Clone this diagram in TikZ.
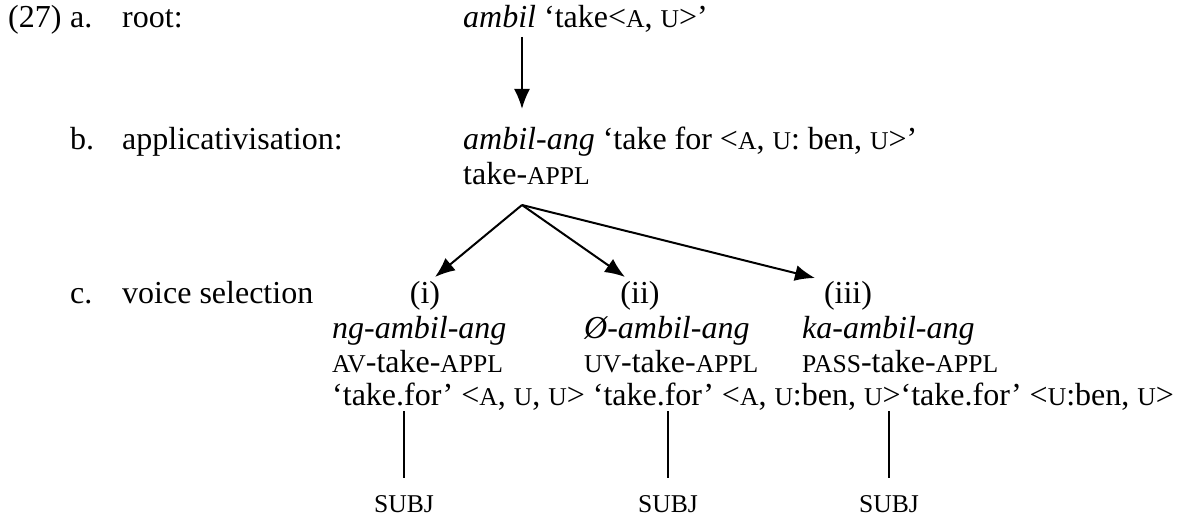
\documentclass[tikz,border=0pt]{standalone}
\usepackage{fontspec}
\setmainfont{Liberation Serif}
\usetikzlibrary{arrows.meta}
\newcommand{\smcap}[1]{{\fontsize{25.6}{30}\selectfont #1}}
\begin{document}
\begin{tikzpicture}[x=1pt,y=-1pt,
  txt/.style={anchor=base west, inner sep=0pt, font=\fontsize{32}{36.8}\selectfont},
  ctr/.style={anchor=base, inner sep=0pt, font=\fontsize{32}{36.8}\selectfont},
  subj/.style={anchor=base, inner sep=0pt, outer ysep=17pt, font=\fontsize{25.6}{30}\selectfont},
  conn/.style={line width=2pt},
  arr/.style={line width=2pt, -{Latex[length=20pt,width=16pt]}}]
\useasboundingbox (0,0) rectangle (1184,524);
% row a
\node[txt] (n27) at (8,28) {(27)};
\node[txt] (la) at (70,28) {a.};
\node[txt] (lroot) at (122,28) {root:};
\node[txt] (ra) at (463,28) {\textit{ambil} ‘take<\smcap{A}, \smcap{U}>’};
% row b
\node[txt] (lb) at (70,150) {b.};
\node[txt] (lapp) at (122,150) {applicativisation:};
\node[txt] (rb) at (463,150) {\textit{ambil-ang} ‘take for <\smcap{A}, \smcap{U}: ben, \smcap{U}>’};
\node[txt] (gb) at (463,185) {take-\smcap{APPL}};
% row c
\node[txt] (lc) at (70,303) {c.};
\node[txt] (lvoice) at (122,303) {voice selection};
\node[ctr] (i1) at (425,303) {(i)};
\node[ctr] (i2) at (640,303) {(ii)};
\node[ctr] (i3) at (848,303) {(iii)};
\node[txt] (f1) at (332,338) {\textit{ng-ambil-ang}};
\node[txt] (f2) at (584,338) {\textit{Ø-ambil-ang}};
\node[txt] (f3) at (802,338) {\textit{ka-ambil-ang}};
\node[txt] (g1) at (332,372) {\smcap{AV}-take-\smcap{APPL}};
\node[txt] (g2) at (584,372) {\smcap{UV}-take-\smcap{APPL}};
\node[txt] (g3) at (802,372) {\smcap{PASS}-take-\smcap{APPL}};
\node[txt] (tf) at (332,405) {‘take.for’ <\smcap{A}, \smcap{U}, \smcap{U}> ‘take.for’ <\smcap{A}, \smcap{U}:ben, \smcap{U}>‘take.for’ <\smcap{U}:ben, \smcap{U}>};
\node[subj] (s1) at (404,512) {SUBJ};
\node[subj] (s2) at (668,512) {SUBJ};
\node[subj] (s3) at (889,512) {SUBJ};
% connectors
\coordinate (a0) at (522,37);
\coordinate (b0) at (522,109);
\coordinate (br) at (522,205);
\coordinate (t1) at (435,277);
\coordinate (t2) at (625,277);
\coordinate (t3) at (815,278);
\coordinate (v1) at (404,411);
\coordinate (v2) at (668,411);
\coordinate (v3) at (889,411);
\draw[arr] (a0) -- (b0);
\draw[arr] (br) -- (t1);
\draw[arr] (br) -- (t2);
\draw[arr] (br) -- (t3);
\draw[conn] (v1) -- (s1);
\draw[conn] (v2) -- (s2);
\draw[conn] (v3) -- (s3);
\end{tikzpicture}
\end{document}
